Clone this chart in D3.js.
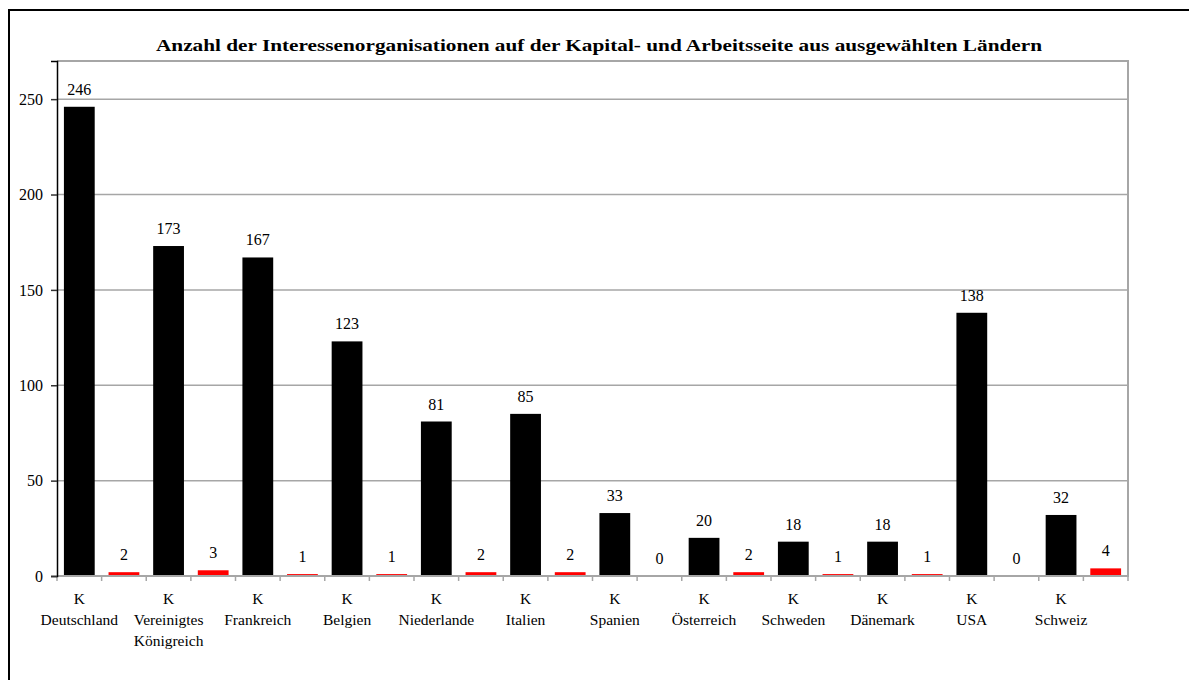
<!DOCTYPE html>
<html>
<head>
<meta charset="utf-8">
<script src="https://cdn.jsdelivr.net/npm/d3@7"></script>
<style>
  html, body { margin: 0; padding: 0; background: #fff; }
  svg { display: block; }
  text { font-family: "Liberation Serif", "Times New Roman", serif; }
</style>
</head>
<body>
<svg id="chart" width="1189" height="680"></svg>
<script>
const title = "Anzahl der Interessenorganisationen auf der Kapital- und Arbeitsseite aus ausgewählten Ländern";
const countries = ["Deutschland", "Vereinigtes Königreich", "Frankreich", "Belgien", "Niederlande", "Italien", "Spanien", "Österreich", "Schweden", "Dänemark", "USA", "Schweiz"];
const countryLines = [["Deutschland"], ["Vereinigtes", "Königreich"], ["Frankreich"], ["Belgien"], ["Niederlande"], ["Italien"], ["Spanien"], ["Österreich"], ["Schweden"], ["Dänemark"], ["USA"], ["Schweiz"]];
const kapital = [246, 173, 167, 123, 81, 85, 33, 20, 18, 18, 138, 32];
const arbeit = [2, 3, 1, 1, 2, 2, 0, 2, 1, 1, 0, 4];
const yTicks = [0, 50, 100, 150, 200, 250];
const yMax = 270;

const svg = d3.select("#chart");
const pLeft = 57, pRight = 1128, pTop = 61, pBottom = 576;

// outer frame
svg.append("rect").attr("x", 9).attr("y", 10).attr("width", 1200).attr("height", 700)
  .attr("fill", "none").attr("stroke", "#000").attr("stroke-width", 2);

// title
svg.append("text").attr("x", 599).attr("y", 51).attr("text-anchor", "middle")
  .attr("font-weight", "bold").attr("font-size", 17.5).attr("fill", "#000")
  .attr("textLength", 886).attr("lengthAdjust", "spacingAndGlyphs")
  .text(title);

// data slots
const slots = [];
countries.forEach((c, i) => {
  slots.push({ key: c + "|K", country: i, type: "K", value: kapital[i] });
  slots.push({ key: c + "|A", country: i, type: "A", value: arbeit[i] });
});

const x = d3.scaleBand().domain(slots.map(d => d.key)).range([pLeft, pRight]).padding(0);
const y = d3.scaleLinear().domain([0, yMax]).range([pBottom, pTop]);
const bw = x.bandwidth() * 0.69;
const off = (x.bandwidth() - bw) / 2;

// gridlines
svg.append("g").selectAll("line").data(yTicks.filter(t => t > 0)).join("line")
  .attr("x1", pLeft).attr("x2", pRight).attr("y1", d => y(d)).attr("y2", d => y(d))
  .attr("stroke", "#a6a6a6").attr("stroke-width", 1.5);

// plot border (top/right)
svg.append("path")
  .attr("d", `M${pLeft},${pTop}H${pRight}V${pBottom}`)
  .attr("fill", "none").attr("stroke", "#a6a6a6").attr("stroke-width", 2);

// bars
svg.append("g").selectAll("rect").data(slots).join("rect")
  .attr("x", d => x(d.key) + off)
  .attr("width", bw)
  .attr("y", d => y(d.value))
  .attr("height", d => y(0) - y(d.value))
  .attr("fill", d => d.type === "K" ? "#000000" : "#ff0000");

// data labels
svg.append("g").selectAll("text").data(slots).join("text")
  .attr("x", d => x(d.key) + x.bandwidth() / 2)
  .attr("y", d => y(d.value) - 12)
  .attr("text-anchor", "middle").attr("font-size", 16).attr("fill", "#000")
  .text(d => d.value);

// x axis line and ticks
svg.append("line").attr("x1", pLeft).attr("x2", pRight + 1).attr("y1", pBottom).attr("y2", pBottom)
  .attr("stroke", "#a6a6a6").attr("stroke-width", 2);
const boundaries = slots.map(d => x(d.key)).concat([pRight]);
svg.append("g").selectAll("line").data(boundaries).join("line")
  .attr("x1", d => d).attr("x2", d => d).attr("y1", pBottom).attr("y2", pBottom + 5)
  .attr("stroke", "#a6a6a6").attr("stroke-width", 1.5);

// y axis
const yAxis = d3.axisLeft(y).tickValues(yTicks).tickSize(6).tickPadding(8);
const gy = svg.append("g").attr("transform", `translate(${pLeft},0)`).call(yAxis);
gy.select(".domain").attr("stroke", "#000").attr("stroke-width", 1.5);
gy.selectAll(".tick line").attr("stroke", "#333").attr("stroke-width", 1.5);
gy.selectAll(".tick text").attr("font-size", 16).attr("fill", "#000")
  .attr("font-family", "Liberation Serif, Times New Roman, serif");

// category labels
const kSlots = slots.filter(d => d.type === "K");
const lab = svg.append("g").selectAll("text").data(kSlots).join("text")
  .attr("text-anchor", "middle").attr("font-size", 15.5).attr("fill", "#000")
  .attr("x", d => x(d.key) + x.bandwidth() / 2);
lab.each(function(d) {
  const t = d3.select(this);
  const cx = x(d.key) + x.bandwidth() / 2;
  t.append("tspan").attr("x", cx).attr("y", 604).text("K");
  countryLines[d.country].forEach((line, j) => {
    t.append("tspan").attr("x", cx).attr("y", 625 + j * 20.5).text(line);
  });
});
</script>
</body>
</html>
